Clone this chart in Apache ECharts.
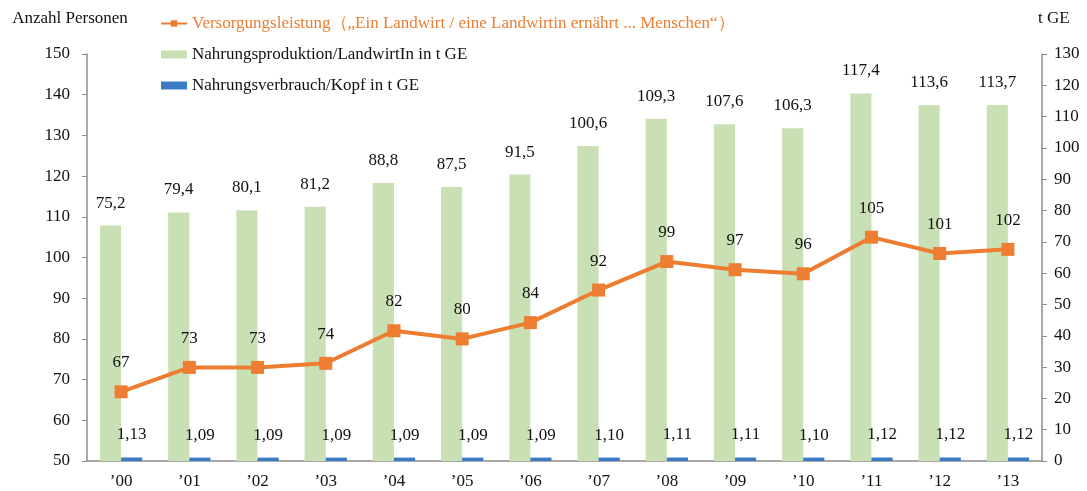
<!DOCTYPE html>
<html>
<head>
<meta charset="utf-8">
<script src="https://cdn.jsdelivr.net/npm/echarts@6/dist/echarts.min.js"></script>
<style>
  html, body { margin: 0; padding: 0; background: #fff; }
  #chart { width: 1087px; height: 491px; }
</style>
</head>
<body>
<div id="chart"></div>
<script>
// Jahre
const years = ['’00', '’01', '’02', '’03', '’04', '’05', '’06', '’07', '’08', '’09', '’10', '’11', '’12', '’13']
// Versorgungsleistung (Personen, linke Achse)
const versorgung = [67, 73, 73, 74, 82, 80, 84, 92, 99, 97, 96, 105, 101, 102]
// Nahrungsproduktion je LandwirtIn in t GE (rechte Achse)
const produktion = [75.2, 79.4, 80.1, 81.2, 88.8, 87.5, 91.5, 100.6, 109.3, 107.6, 106.3, 117.4, 113.6, 113.7]
// Nahrungsverbrauch je Kopf in t GE (rechte Achse)
const verbrauch = [1.13, 1.09, 1.09, 1.09, 1.09, 1.09, 1.09, 1.10, 1.11, 1.11, 1.10, 1.12, 1.12, 1.12]

const nameLine = 'Versorgungsleistung（„Ein Landwirt / eine Landwirtin ernährt ... Menschen“）'
const nameProd = 'Nahrungsproduktion/LandwirtIn in t GE'
const nameVerb = 'Nahrungsverbrauch/Kopf in t GE'

const font = '"Liberation Serif", "DejaVu Serif", serif'
const fs = 17
const axisGray = '#8c8c8c'

const fmt = (v, d) => v.toFixed(d).replace('.', ',')

const chart = echarts.init(document.getElementById('chart'))
chart.setOption({
  animation: false,
  textStyle: { fontFamily: font, color: '#111' },
  grid: { left: 87, right: 45, top: 54, bottom: 30 },
  legend: {
    orient: 'vertical',
    left: 155,
    top: 10,
    itemWidth: 26,
    itemHeight: 8,
    itemGap: 14,
    textStyle: { fontFamily: font, fontSize: fs, color: '#111' },
    data: [
      { name: nameLine, textStyle: { color: '#ED7D31' } },
      { name: nameProd, icon: 'rect' },
      { name: nameVerb, icon: 'rect' }
    ]
  },
  xAxis: {
    type: 'category',
    data: years,
    axisLine: { lineStyle: { color: axisGray, width: 1.5 } },
    axisTick: { show: false },
    axisLabel: { fontFamily: font, fontSize: fs, color: '#111', margin: 12 }
  },
  yAxis: [
    {
      type: 'value',
      name: 'Anzahl Personen',
      nameLocation: 'end',
      nameGap: 27,
      nameTextStyle: { fontFamily: font, fontSize: fs, color: '#111', align: 'center', padding: [0, 0, 0, -34] },
      min: 50,
      max: 150,
      interval: 10,
      splitLine: { show: false },
      axisLine: { show: true, lineStyle: { color: axisGray, width: 1.5 } },
      axisTick: { show: true, length: 5, lineStyle: { color: axisGray } },
      axisLabel: { fontFamily: font, fontSize: fs, color: '#111', margin: 17 }
    },
    {
      type: 'value',
      name: 't GE',
      nameLocation: 'end',
      nameGap: 27,
      nameTextStyle: { fontFamily: font, fontSize: fs, color: '#111', align: 'left', padding: [0, 0, 0, -4] },
      min: 0,
      max: 130,
      interval: 10,
      position: 'right',
      splitLine: { show: false },
      axisLine: { show: true, lineStyle: { color: axisGray, width: 1.5 } },
      axisTick: { show: true, length: 5, lineStyle: { color: axisGray } },
      axisLabel: { fontFamily: font, fontSize: fs, color: '#111', margin: 12 }
    }
  ],
  series: [
    {
      name: nameProd,
      type: 'bar',
      yAxisIndex: 1,
      data: produktion,
      barWidth: '31%',
      barGap: '0%',
      itemStyle: { color: '#C9E0B4' },
      label: {
        show: true,
        position: 'top',
        distance: 14,
        fontFamily: font,
        fontSize: fs,
        color: '#111',
        formatter: p => fmt(p.value, 1)
      },
      z: 1
    },
    {
      name: nameVerb,
      type: 'bar',
      yAxisIndex: 1,
      data: verbrauch,
      barWidth: '31%',
      itemStyle: { color: '#3B7BC6' },
      label: {
        show: true,
        position: 'top',
        distance: 14,
        fontFamily: font,
        fontSize: fs,
        color: '#111',
        formatter: p => fmt(p.value, 2)
      },
      z: 2
    },
    {
      name: nameLine,
      type: 'line',
      yAxisIndex: 0,
      data: versorgung,
      symbol: 'rect',
      symbolSize: 13,
      lineStyle: { color: '#ED7D31', width: 4 },
      itemStyle: { color: '#ED7D31' },
      label: {
        show: true,
        position: 'top',
        distance: 14,
        fontFamily: font,
        fontSize: fs,
        color: '#111'
      },
      z: 3
    }
  ]
})
</script>
</body>
</html>
